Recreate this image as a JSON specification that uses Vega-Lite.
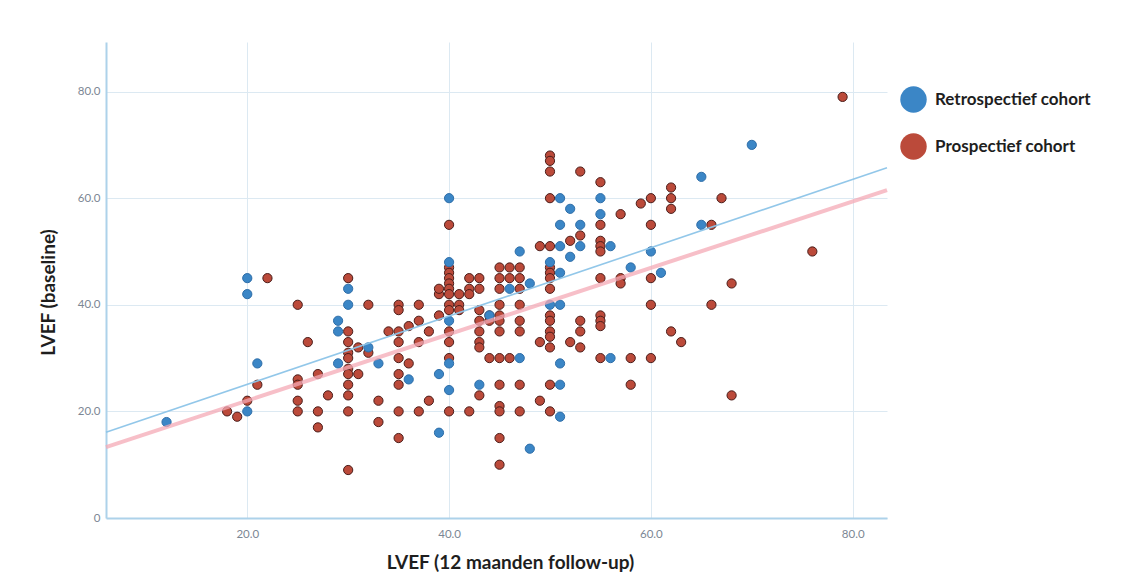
{
  "$schema": "https://vega.github.io/schema/vega-lite/v6.json",
  "width": 781,
  "height": 476,
  "autosize": {"type": "none"},
  "padding": {"left": 106, "top": 42, "right": 247, "bottom": 60},
  "background": "#ffffff",
  "config": {"view": {"stroke": null}, "font": "Lato"},
  "datasets": {
    "points": [
      {"lvef12":18,"base":20,"cohort":"P"},{"lvef12":19,"base":19,"cohort":"P"},{"lvef12":20,"base":22,"cohort":"P"},{"lvef12":21,"base":25,"cohort":"P"},{"lvef12":22,"base":45,"cohort":"P"},
      {"lvef12":25,"base":40,"cohort":"P"},{"lvef12":25,"base":26,"cohort":"P"},{"lvef12":25,"base":25,"cohort":"P"},{"lvef12":25,"base":22,"cohort":"P"},{"lvef12":25,"base":20,"cohort":"P"},
      {"lvef12":26,"base":33,"cohort":"P"},{"lvef12":27,"base":27,"cohort":"P"},{"lvef12":27,"base":20,"cohort":"P"},{"lvef12":27,"base":17,"cohort":"P"},{"lvef12":28,"base":23,"cohort":"P"},
      {"lvef12":30,"base":45,"cohort":"P"},{"lvef12":30,"base":35,"cohort":"P"},{"lvef12":30,"base":33,"cohort":"P"},{"lvef12":30,"base":31,"cohort":"P"},{"lvef12":30,"base":30,"cohort":"P"},{"lvef12":30,"base":28,"cohort":"P"},{"lvef12":30,"base":27,"cohort":"P"},{"lvef12":30,"base":25,"cohort":"P"},{"lvef12":30,"base":23,"cohort":"P"},{"lvef12":30,"base":20,"cohort":"P"},{"lvef12":30,"base":9,"cohort":"P"},
      {"lvef12":31,"base":32,"cohort":"P"},{"lvef12":31,"base":27,"cohort":"P"},{"lvef12":32,"base":40,"cohort":"P"},{"lvef12":32,"base":31,"cohort":"P"},{"lvef12":33,"base":22,"cohort":"P"},{"lvef12":33,"base":18,"cohort":"P"},
      {"lvef12":34,"base":35,"cohort":"P"},{"lvef12":35,"base":40,"cohort":"P"},{"lvef12":35,"base":39,"cohort":"P"},{"lvef12":35,"base":35,"cohort":"P"},{"lvef12":35,"base":33,"cohort":"P"},{"lvef12":35,"base":30,"cohort":"P"},{"lvef12":35,"base":27,"cohort":"P"},{"lvef12":35,"base":25,"cohort":"P"},{"lvef12":35,"base":20,"cohort":"P"},{"lvef12":35,"base":15,"cohort":"P"},
      {"lvef12":36,"base":36,"cohort":"P"},{"lvef12":36,"base":29,"cohort":"P"},{"lvef12":37,"base":40,"cohort":"P"},{"lvef12":37,"base":37,"cohort":"P"},{"lvef12":37,"base":33,"cohort":"P"},{"lvef12":37,"base":20,"cohort":"P"},{"lvef12":38,"base":35,"cohort":"P"},{"lvef12":38,"base":22,"cohort":"P"},
      {"lvef12":39,"base":42,"cohort":"P"},{"lvef12":39,"base":43,"cohort":"P"},{"lvef12":39,"base":38,"cohort":"P"},
      {"lvef12":40,"base":55,"cohort":"P"},{"lvef12":40,"base":47,"cohort":"P"},{"lvef12":40,"base":46,"cohort":"P"},{"lvef12":40,"base":45,"cohort":"P"},{"lvef12":40,"base":44,"cohort":"P"},{"lvef12":40,"base":43,"cohort":"P"},{"lvef12":40,"base":42,"cohort":"P"},{"lvef12":40,"base":40,"cohort":"P"},{"lvef12":40,"base":39,"cohort":"P"},{"lvef12":40,"base":35,"cohort":"P"},{"lvef12":40,"base":33,"cohort":"P"},{"lvef12":40,"base":30,"cohort":"P"},{"lvef12":40,"base":20,"cohort":"P"},
      {"lvef12":41,"base":42,"cohort":"P"},{"lvef12":41,"base":40,"cohort":"P"},{"lvef12":41,"base":39,"cohort":"P"},{"lvef12":42,"base":45,"cohort":"P"},{"lvef12":42,"base":43,"cohort":"P"},{"lvef12":42,"base":42,"cohort":"P"},{"lvef12":42,"base":20,"cohort":"P"},
      {"lvef12":43,"base":45,"cohort":"P"},{"lvef12":43,"base":43,"cohort":"P"},{"lvef12":43,"base":39,"cohort":"P"},{"lvef12":43,"base":37,"cohort":"P"},{"lvef12":43,"base":35,"cohort":"P"},{"lvef12":43,"base":33,"cohort":"P"},{"lvef12":43,"base":32,"cohort":"P"},{"lvef12":43,"base":23,"cohort":"P"},
      {"lvef12":44,"base":38,"cohort":"P"},{"lvef12":44,"base":37,"cohort":"P"},{"lvef12":44,"base":30,"cohort":"P"},
      {"lvef12":45,"base":47,"cohort":"P"},{"lvef12":45,"base":45,"cohort":"P"},{"lvef12":45,"base":43,"cohort":"P"},{"lvef12":45,"base":40,"cohort":"P"},{"lvef12":45,"base":38,"cohort":"P"},{"lvef12":45,"base":37,"cohort":"P"},{"lvef12":45,"base":35,"cohort":"P"},{"lvef12":45,"base":30,"cohort":"P"},{"lvef12":45,"base":25,"cohort":"P"},{"lvef12":45,"base":21,"cohort":"P"},{"lvef12":45,"base":20,"cohort":"P"},{"lvef12":45,"base":15,"cohort":"P"},{"lvef12":45,"base":10,"cohort":"P"},
      {"lvef12":46,"base":47,"cohort":"P"},{"lvef12":46,"base":45,"cohort":"P"},{"lvef12":46,"base":30,"cohort":"P"},{"lvef12":47,"base":47,"cohort":"P"},{"lvef12":47,"base":45,"cohort":"P"},{"lvef12":47,"base":43,"cohort":"P"},{"lvef12":47,"base":40,"cohort":"P"},{"lvef12":47,"base":37,"cohort":"P"},{"lvef12":47,"base":35,"cohort":"P"},{"lvef12":47,"base":25,"cohort":"P"},{"lvef12":47,"base":20,"cohort":"P"},
      {"lvef12":49,"base":51,"cohort":"P"},{"lvef12":49,"base":33,"cohort":"P"},{"lvef12":49,"base":22,"cohort":"P"},
      {"lvef12":50,"base":68,"cohort":"P"},{"lvef12":50,"base":67,"cohort":"P"},{"lvef12":50,"base":65,"cohort":"P"},{"lvef12":50,"base":60,"cohort":"P"},{"lvef12":50,"base":51,"cohort":"P"},{"lvef12":50,"base":47,"cohort":"P"},{"lvef12":50,"base":46,"cohort":"P"},{"lvef12":50,"base":45,"cohort":"P"},{"lvef12":50,"base":43,"cohort":"P"},{"lvef12":50,"base":38,"cohort":"P"},{"lvef12":50,"base":37,"cohort":"P"},{"lvef12":50,"base":35,"cohort":"P"},{"lvef12":50,"base":34,"cohort":"P"},{"lvef12":50,"base":32,"cohort":"P"},{"lvef12":50,"base":25,"cohort":"P"},{"lvef12":50,"base":20,"cohort":"P"},
      {"lvef12":52,"base":52,"cohort":"P"},{"lvef12":52,"base":33,"cohort":"P"},{"lvef12":53,"base":65,"cohort":"P"},{"lvef12":53,"base":53,"cohort":"P"},{"lvef12":53,"base":37,"cohort":"P"},{"lvef12":53,"base":35,"cohort":"P"},{"lvef12":53,"base":32,"cohort":"P"},
      {"lvef12":55,"base":63,"cohort":"P"},{"lvef12":55,"base":55,"cohort":"P"},{"lvef12":55,"base":52,"cohort":"P"},{"lvef12":55,"base":51,"cohort":"P"},{"lvef12":55,"base":50,"cohort":"P"},{"lvef12":55,"base":45,"cohort":"P"},{"lvef12":55,"base":38,"cohort":"P"},{"lvef12":55,"base":37,"cohort":"P"},{"lvef12":55,"base":36,"cohort":"P"},{"lvef12":55,"base":30,"cohort":"P"},
      {"lvef12":57,"base":57,"cohort":"P"},{"lvef12":57,"base":45,"cohort":"P"},{"lvef12":57,"base":44,"cohort":"P"},{"lvef12":58,"base":30,"cohort":"P"},{"lvef12":58,"base":25,"cohort":"P"},{"lvef12":59,"base":59,"cohort":"P"},
      {"lvef12":60,"base":60,"cohort":"P"},{"lvef12":60,"base":55,"cohort":"P"},{"lvef12":60,"base":45,"cohort":"P"},{"lvef12":60,"base":40,"cohort":"P"},{"lvef12":60,"base":30,"cohort":"P"},
      {"lvef12":62,"base":62,"cohort":"P"},{"lvef12":62,"base":60,"cohort":"P"},{"lvef12":62,"base":58,"cohort":"P"},{"lvef12":62,"base":35,"cohort":"P"},{"lvef12":63,"base":33,"cohort":"P"},{"lvef12":66,"base":55,"cohort":"P"},{"lvef12":66,"base":40,"cohort":"P"},{"lvef12":67,"base":60,"cohort":"P"},{"lvef12":68,"base":44,"cohort":"P"},{"lvef12":68,"base":23,"cohort":"P"},{"lvef12":76,"base":50,"cohort":"P"},{"lvef12":79,"base":79,"cohort":"P"},
      {"lvef12":12,"base":18,"cohort":"R"},{"lvef12":20,"base":45,"cohort":"R"},{"lvef12":20,"base":42,"cohort":"R"},{"lvef12":20,"base":20,"cohort":"R"},{"lvef12":21,"base":29,"cohort":"R"},
      {"lvef12":29,"base":37,"cohort":"R"},{"lvef12":29,"base":35,"cohort":"R"},{"lvef12":29,"base":29,"cohort":"R"},{"lvef12":30,"base":43,"cohort":"R"},{"lvef12":30,"base":40,"cohort":"R"},
      {"lvef12":32,"base":32,"cohort":"R"},{"lvef12":33,"base":29,"cohort":"R"},{"lvef12":36,"base":26,"cohort":"R"},{"lvef12":39,"base":27,"cohort":"R"},{"lvef12":39,"base":16,"cohort":"R"},
      {"lvef12":40,"base":60,"cohort":"R"},{"lvef12":40,"base":48,"cohort":"R"},{"lvef12":40,"base":37,"cohort":"R"},{"lvef12":40,"base":29,"cohort":"R"},{"lvef12":40,"base":24,"cohort":"R"},
      {"lvef12":43,"base":25,"cohort":"R"},{"lvef12":44,"base":38,"cohort":"R"},{"lvef12":46,"base":43,"cohort":"R"},{"lvef12":47,"base":50,"cohort":"R"},{"lvef12":47,"base":30,"cohort":"R"},
      {"lvef12":48,"base":44,"cohort":"R"},{"lvef12":48,"base":13,"cohort":"R"},{"lvef12":50,"base":48,"cohort":"R"},{"lvef12":50,"base":40,"cohort":"R"},{"lvef12":51,"base":60,"cohort":"R"},
      {"lvef12":51,"base":55,"cohort":"R"},{"lvef12":51,"base":51,"cohort":"R"},{"lvef12":51,"base":46,"cohort":"R"},{"lvef12":51,"base":40,"cohort":"R"},{"lvef12":51,"base":29,"cohort":"R"},
      {"lvef12":51,"base":25,"cohort":"R"},{"lvef12":51,"base":19,"cohort":"R"},{"lvef12":52,"base":58,"cohort":"R"},{"lvef12":52,"base":49,"cohort":"R"},{"lvef12":53,"base":55,"cohort":"R"},
      {"lvef12":53,"base":51,"cohort":"R"},{"lvef12":55,"base":60,"cohort":"R"},{"lvef12":55,"base":57,"cohort":"R"},{"lvef12":56,"base":51,"cohort":"R"},{"lvef12":56,"base":30,"cohort":"R"},
      {"lvef12":58,"base":47,"cohort":"R"},{"lvef12":60,"base":50,"cohort":"R"},{"lvef12":61,"base":46,"cohort":"R"},{"lvef12":65,"base":64,"cohort":"R"},{"lvef12":65,"base":55,"cohort":"R"},{"lvef12":70,"base":70,"cohort":"R"}
    ],
    "fits": [
      {"lvef12": 6, "base": 16.1, "cohort": "R"},
      {"lvef12": 83.4, "base": 65.7, "cohort": "R"},
      {"lvef12": 6, "base": 13.3, "cohort": "P"},
      {"lvef12": 83.4, "base": 61.5, "cohort": "P"}
    ]
  },
  "layer": [
    {
      "data": {"name": "points"},
      "mark": {"type": "point", "filled": true, "size": 85, "strokeWidth": 1, "opacity": 1},
      "encoding": {
        "x": {
          "field": "lvef12", "type": "quantitative",
          "scale": {"domain": [6, 83.4], "nice": false, "zero": false},
          "axis": {
            "values": [20, 40, 60, 80],
            "labelExpr": "format(datum.value, '.1f')",
            "title": "LVEF (12 maanden follow-up)",
            "grid": true, "gridColor": "#dce9f2", "gridWidth": 1,
            "domainColor": "#add2ea", "domainWidth": 2,
            "ticks": false,
            "labelColor": "#7c8794", "labelFontSize": 11.5, "labelPadding": 10,
            "titleFontSize": 19, "titleFontWeight": "bold", "titleColor": "#1e1e1e", "titlePadding": 14,
            "titleX": 404
          }
        },
        "y": {
          "field": "base", "type": "quantitative",
          "scale": {"domain": [0, 89.3], "nice": false},
          "axis": {
            "values": [0, 20, 40, 60, 80],
            "labelExpr": "datum.value == 0 ? '0' : format(datum.value, '.1f')",
            "title": "LVEF (baseline)",
            "grid": true, "gridColor": "#dce9f2", "gridWidth": 1,
            "domainColor": "#add2ea", "domainWidth": 2,
            "ticks": false,
            "labelColor": "#7c8794", "labelFontSize": 11.5, "labelPadding": 6,
            "titleFontSize": 19, "titleFontWeight": "bold", "titleColor": "#1e1e1e", "titlePadding": 19,
            "titleY": 250
          }
        },
        "fill": {
          "field": "cohort", "type": "nominal",
          "scale": {"domain": ["R", "P"], "range": ["#3b86c6", "#bb4a3a"]},
          "legend": {
            "title": null,
            "orient": "none",
            "legendX": 794,
            "legendY": 44,
            "symbolType": "circle",
            "symbolSize": 700,
            "symbolStrokeWidth": 0,
            "labelExpr": "datum.value == 'R' ? 'Retrospectief cohort' : 'Prospectief cohort'",
            "labelFont": "Lato",
            "labelFontSize": 17,
            "labelFontWeight": "bold",
            "labelColor": "#1e1e1e",
            "labelOffset": 8,
            "rowPadding": 20,
            "padding": 0
          }
        },
        "stroke": {
          "field": "cohort", "type": "nominal",
          "scale": {"domain": ["R", "P"], "range": ["#2f6ea8", "#4a1d1a"]},
          "legend": null
        }
      }
    },
    {
      "data": {"name": "fits"},
      "transform": [{"filter": "datum.cohort == 'P'"}],
      "mark": {"type": "line", "color": "#f4aab6", "strokeWidth": 4, "opacity": 0.75},
      "encoding": {
        "x": {"field": "lvef12", "type": "quantitative"},
        "y": {"field": "base", "type": "quantitative"}
      }
    },
    {
      "data": {"name": "fits"},
      "transform": [{"filter": "datum.cohort == 'R'"}],
      "mark": {"type": "line", "color": "#8cc4e8", "strokeWidth": 1.6, "opacity": 0.95},
      "encoding": {
        "x": {"field": "lvef12", "type": "quantitative"},
        "y": {"field": "base", "type": "quantitative"}
      }
    }
  ]
}
